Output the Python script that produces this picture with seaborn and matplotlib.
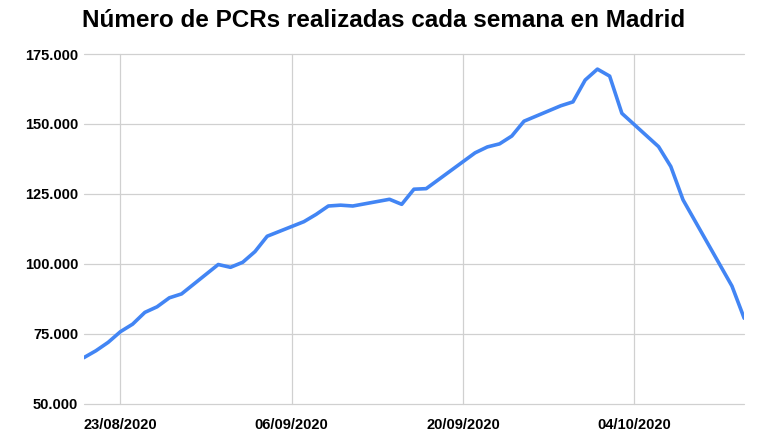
import pandas as pd
import seaborn as sns
import matplotlib.pyplot as plt
import matplotlib.dates as mdates
from matplotlib.ticker import FuncFormatter

# vertices of the line (date, PCRs in the last week)
fechas = ['2020-08-20', '2020-08-21', '2020-08-22', '2020-08-23', '2020-08-24',
          '2020-08-25', '2020-08-26', '2020-08-27', '2020-08-28', '2020-08-31',
          '2020-09-01', '2020-09-02', '2020-09-03', '2020-09-04', '2020-09-07',
          '2020-09-08', '2020-09-09', '2020-09-10', '2020-09-11', '2020-09-14',
          '2020-09-15', '2020-09-16', '2020-09-17', '2020-09-21', '2020-09-22',
          '2020-09-23', '2020-09-24', '2020-09-25', '2020-09-28', '2020-09-29',
          '2020-09-30', '2020-10-01', '2020-10-02', '2020-10-03', '2020-10-06',
          '2020-10-07', '2020-10-08', '2020-10-12', '2020-10-13']
pcrs = [66500, 69000, 72000, 75800, 78500,
        82700, 84700, 87900, 89300, 99800,
        98800, 100600, 104400, 109900, 115100,
        117700, 120700, 121000, 120700, 123100,
        121300, 126700, 126900, 139700, 141800,
        142900, 145700, 151000, 156500, 157900,
        165700, 169600, 167100, 153800, 141900,
        134800, 122900, 92100, 80600]

ticks_x = ['2020-08-23', '2020-09-06', '2020-09-20', '2020-10-04']
ticks_y = [50000, 75000, 100000, 125000, 150000, 175000]

df = pd.DataFrame({'fecha': pd.to_datetime(fechas), 'pcrs': pcrs})

sns.set_style('white')
plt.rcParams['font.family'] = ['Liberation Sans', 'DejaVu Sans']

fig, ax = plt.subplots(figsize=(7.68, 4.32), dpi=100)
fig.subplots_adjust(left=0.109, right=0.969, top=0.875, bottom=0.065)

sns.lineplot(data=df, x='fecha', y='pcrs', color='#4285F4', linewidth=2.6, ax=ax)

ax.set_xlim(pd.Timestamp('2020-08-20'), pd.Timestamp('2020-10-13'))
ax.set_ylim(50000, 175000)
ax.set_xticks(pd.to_datetime(ticks_x))
ax.set_yticks(ticks_y)
ax.xaxis.set_major_formatter(mdates.DateFormatter('%d/%m/%Y'))
ax.yaxis.set_major_formatter(FuncFormatter(lambda v, p: f'{int(v):,}'.replace(',', '.')))

ax.grid(True, color='#d0d0d0', linewidth=0.9)
for g in ax.get_ygridlines() + ax.get_xgridlines():
    g.set_clip_on(False)
for s in ax.spines.values():
    s.set_visible(False)
ax.tick_params(length=0, labelsize=10.5, pad=4, colors='black')
ax.tick_params(axis='x', pad=10)
for lbl in ax.get_xticklabels() + ax.get_yticklabels():
    lbl.set_fontweight('bold')

ax.set_xlabel('')
ax.set_ylabel('')
fig.suptitle('Número de PCRs realizadas cada semana en Madrid',
             fontsize=17.5, fontweight='bold', color='black', y=0.98)

fig.savefig('out.png', dpi=100)
